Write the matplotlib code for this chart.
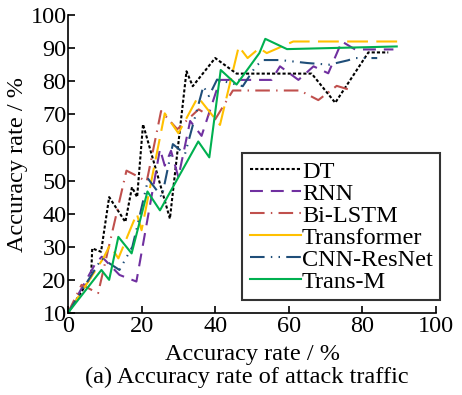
import matplotlib
matplotlib.use("Agg")
import matplotlib.pyplot as plt

plt.rcParams['font.family'] = ['Liberation Serif', 'DejaVu Serif']

# -----------------------------
# DATA
# -----------------------------

dt_x = [0, 6.3, 6.6, 9, 11.2, 15.6, 17.4, 18.8, 20.4, 27.7, 32.2, 33.9, 40, 45.8, 66.2, 72.6, 81.6, 87]
dt_y = [10, 21, 29.5, 28.5, 45, 37.5, 48, 45, 67, 38.5, 83, 78.5, 87, 82.3, 82.3, 73.5, 88.7, 88.7]

rnn_x = [0, 7.5, 9.2, 14, 18.6, 25, 26.3, 28, 30, 33.2, 36.3, 41.3, 55.3, 57.6, 62.6, 66.7, 70.7, 74.4, 78, 88.4]
rnn_y = [10, 25, 27, 21.5, 19.5, 59.5, 54.5, 59, 51, 68, 63.5, 80.4, 80.4, 84.5, 80.4, 84.5, 82.4, 92, 89.6, 89.6]

lstm_x = [0, 3.7, 8.2, 15.9, 18.2, 21.4, 25.3, 29.7, 35.5, 40, 44.8, 63, 68, 73, 76.6]
lstm_y = [10, 18.5, 16, 53, 51.7, 49.7, 71, 65.5, 71.5, 68.5, 77.2, 77.2, 74.3, 78.6, 77.4]

trf_x = [0, 9.6, 11.4, 13.7, 18.7, 20, 26.3, 30, 35.3, 41.3, 46.4, 48.8, 52, 54, 61.2, 90]
trf_y = [10, 26.5, 30.5, 26.5, 40, 35, 70.3, 64.3, 75.2, 66.8, 90.5, 87, 90, 88.5, 92, 92]

cnn_x = [0, 9.2, 14, 17.5, 19, 21.8, 25.5, 28.5, 31.8, 36.8, 38.3, 40.5, 47.5, 51, 53, 57.6, 65, 71, 76, 78, 84]
cnn_y = [10, 26.5, 23, 30, 37, 50.5, 45, 61, 58, 78.5, 75.5, 80.5, 78.5, 84.5, 86.4, 86.4, 85.5, 85, 86.3, 87, 87]

tm_x = [0, 9.1, 11.2, 13.7, 17.3, 21.6, 25, 35.4, 38.4, 41.5, 45.8, 52, 53.6, 59.5, 89.3]
tm_y = [10, 23, 20, 33, 28, 46.7, 41, 61.8, 57, 83.4, 79, 88.5, 92.8, 89.7, 90.5]

x_ticks = [0, 20, 40, 60, 80, 100]
y_ticks = [10, 20, 30, 40, 50, 60, 70, 80, 90, 100]

# -----------------------------
# PLOT
# -----------------------------

fs = 17.5

fig = plt.figure(figsize=(4.62, 3.95), dpi=100)
ax = fig.add_axes([0.147, 0.2076, 0.797, 0.7544])

lw = 1.5
ax.plot(dt_x, dt_y, color='black', lw=lw, linestyle=(0, (1.5, 1.0)), label='DT')
ax.plot(rnn_x, rnn_y, color='#7030A0', lw=lw, linestyle=(0, (6.2, 3.8)), label='RNN')
ax.plot(lstm_x, lstm_y, color='#C0504D', lw=lw, linestyle=(0, (7, 3, 0.7, 3)), label='Bi-LSTM')
ax.plot(trf_x, trf_y, color='#FFC000', lw=lw, linestyle=(0, (10, 4)), label='Transformer')
ax.plot(cnn_x, cnn_y, color='#1F4E79', lw=lw, linestyle=(0, (7, 3, 0.7, 3, 0.7, 3)), label='CNN-ResNet')
ax.plot(tm_x, tm_y, color='#00B050', lw=lw, label='Trans-M')

ax.set_xlim(0, 100)
ax.set_ylim(10, 100)
ax.set_xticks(x_ticks)
ax.set_yticks(y_ticks)

for side in ['top', 'right']:
    ax.spines[side].set_visible(False)
for side in ['left', 'bottom']:
    ax.spines[side].set_linewidth(1.2)

ax.tick_params(direction='in', length=5, width=1.2, labelsize=fs)
ax.tick_params(axis='x', pad=2)
ax.tick_params(axis='y', pad=1)

ax.set_xlabel('Accuracy rate / %', fontsize=fs, labelpad=5)
ax.set_ylabel('Accuracy rate / %', fontsize=fs, labelpad=2)

fig.text(0.535, 0.045, '(a) Accuracy rate of attack traffic', fontsize=fs, ha='center', va='center')

leg = ax.legend(
    loc='lower right',
    bbox_to_anchor=(1.011, 0.0436),
    borderaxespad=0,
    fontsize=fs,
    frameon=True,
    fancybox=False,
    edgecolor='black',
    handlelength=2.1,
    handletextpad=0.05,
    labelspacing=0.0,
    borderpad=0.3,
)
leg.get_frame().set_linewidth(1.5)
leg.get_lines()[3].set_linestyle('-')

fig.savefig('out.png', dpi=100)
